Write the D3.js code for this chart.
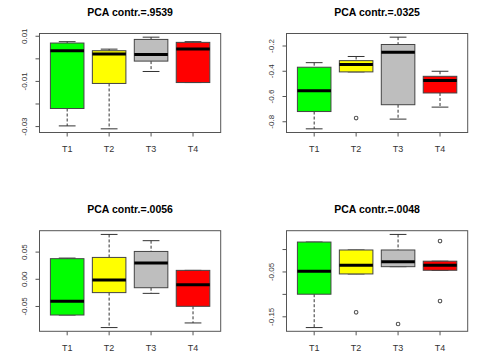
<!DOCTYPE html>
<html><head><meta charset="utf-8">
<script src="https://cdn.jsdelivr.net/npm/d3@7"></script>
<style>body{margin:0;background:#fff}svg{display:block}</style>
</head><body>
<script>
const categories = ["T1","T2","T3","T4"];
const boxColors = ["#00FF00","#FFFF00","#BEBEBE","#FF0000"];
const titles = ["PCA contr.=.9539","PCA contr.=.0325","PCA contr.=.0056","PCA contr.=.0048"];

// Panel 1
const p1Low  = [-0.0297, -0.0310, -0.0056, -0.0105];
const p1Q1   = [-0.0220, -0.0109, -0.0010, -0.0105];
const p1Med  = [ 0.0036,  0.0021,  0.0019,  0.0044];
const p1Q3   = [ 0.0070,  0.0036,  0.0086,  0.0073];
const p1High = [ 0.0076,  0.0043,  0.0096,  0.0076];
const p1Out  = [[], [], [], []];
const p1Ticks = [0.01, 0.00, -0.01, -0.02, -0.03];
const p1TickLabels = ["0.01", "", "-0.01", "", "-0.03"];

// Panel 2
const p2Low  = [-0.856, -0.405, -0.779, -0.684];
const p2Q1   = [-0.719, -0.405, -0.665, -0.572];
const p2Med  = [-0.554, -0.347, -0.250, -0.474];
const p2Q3   = [-0.368, -0.316, -0.188, -0.440];
const p2High = [-0.332, -0.283, -0.130, -0.400];
const p2Out  = [[], [-0.771], [], []];
const p2Ticks = [-0.2, -0.4, -0.6, -0.8];
const p2TickLabels = ["-0.2", "-0.4", "-0.6", "-0.8"];

// Panel 3
const p3Low  = [-0.0657, -0.0888, -0.0259, -0.0803];
const p3Q1   = [-0.0657, -0.0245, -0.0155, -0.0497];
const p3Med  = [-0.0405, -0.0012,  0.0298, -0.0099];
const p3Q3   = [ 0.0379,  0.0402,  0.0512,  0.0164];
const p3High = [ 0.0390,  0.0825,  0.0710,  0.0164];
const p3Out  = [[], [], [], []];
const p3Ticks = [0.05, 0.00, -0.05];
const p3TickLabels = ["0.05", "0.00", "-0.05"];

// Panel 4
const p4Low  = [-0.174, -0.0544, -0.0382, -0.0462];
const p4Q1   = [-0.0996, -0.0544, -0.0382, -0.0462];
const p4Med  = [-0.0484, -0.035, -0.027, -0.035];
const p4Q3   = [ 0.0167, -0.001, -0.001, -0.026];
const p4High = [ 0.0167, -0.001,  0.0337, -0.026];
const p4Out  = [[], [-0.140], [-0.166], [0.0189, -0.115]];
const p4Ticks = [0.00, -0.05, -0.10, -0.15];
const p4TickLabels = ["", "-0.05", "", "-0.15"];

const panels = [
  {low:p1Low,q1:p1Q1,med:p1Med,q3:p1Q3,high:p1High,out:p1Out,ticks:p1Ticks,labels:p1TickLabels},
  {low:p2Low,q1:p2Q1,med:p2Med,q3:p2Q3,high:p2High,out:p2Out,ticks:p2Ticks,labels:p2TickLabels},
  {low:p3Low,q1:p3Q1,med:p3Med,q3:p3Q3,high:p3High,out:p3Out,ticks:p3Ticks,labels:p3TickLabels},
  {low:p4Low,q1:p4Q1,med:p4Med,q3:p4Q3,high:p4High,out:p4Out,ticks:p4Ticks,labels:p4TickLabels}
];

const W = 495, H = 360;
const colLeft = [39.5, 286.5], colRight = [220.7, 467.7];
const rowTop = [33.5, 230.7], rowBottom = [132.5, 331.3];
const font = "'Liberation Sans', Arial, sans-serif";
const fg = "#333";

const svg = d3.select("body").append("svg").attr("width", W).attr("height", H);

panels.forEach((p, i) => {
  const c = i % 2, r = Math.floor(i / 2);
  const L = colLeft[c], R = colRight[c], T = rowTop[r], B = rowBottom[r];
  const g = svg.append("g");

  const xr = [0.5, categories.length + 0.5];
  const xpad = (xr[1] - xr[0]) * 0.04;
  const x = d3.scaleLinear().domain([xr[0] - xpad, xr[1] + xpad]).range([L, R]);

  const allVals = [].concat(p.low, p.high, ...p.out);
  const ymin = d3.min(allVals), ymax = d3.max(allVals);
  const ypad = (ymax - ymin) * 0.04;
  const y = d3.scaleLinear().domain([ymin - ypad, ymax + ypad]).range([B, T]);

  const bw = (x(1.4) - x(0.6));
  const sw = bw / 2;

  categories.forEach((cat, k) => {
    const cx = x(k + 1);
    g.append("line").attr("x1", cx).attr("x2", cx)
      .attr("y1", y(p.high[k])).attr("y2", y(p.q3[k]))
      .attr("stroke", fg).attr("stroke-width", 1).attr("stroke-dasharray", "3,2");
    g.append("line").attr("x1", cx).attr("x2", cx)
      .attr("y1", y(p.q1[k])).attr("y2", y(p.low[k]))
      .attr("stroke", fg).attr("stroke-width", 1).attr("stroke-dasharray", "3,2");
    [p.high[k], p.low[k]].forEach(v => {
      g.append("line").attr("x1", cx - sw / 2).attr("x2", cx + sw / 2)
        .attr("y1", y(v)).attr("y2", y(v))
        .attr("stroke", fg).attr("stroke-width", 1);
    });
    g.append("rect").attr("x", cx - bw / 2).attr("width", bw)
      .attr("y", y(p.q3[k])).attr("height", y(p.q1[k]) - y(p.q3[k]))
      .attr("fill", boxColors[k]).attr("stroke", "#444").attr("stroke-width", 1);
    g.append("line").attr("x1", cx - bw / 2).attr("x2", cx + bw / 2)
      .attr("y1", y(p.med[k])).attr("y2", y(p.med[k]))
      .attr("stroke", "#000").attr("stroke-width", 3);
    p.out[k].forEach(v => {
      g.append("circle").attr("cx", cx).attr("cy", y(v)).attr("r", 1.8)
        .attr("fill", "none").attr("stroke", "#555").attr("stroke-width", 1.1);
    });
  });

  g.append("rect").attr("x", L).attr("y", T).attr("width", R - L).attr("height", B - T)
    .attr("fill", "none").attr("stroke", "#555").attr("stroke-width", 1);

  categories.forEach((cat, k) => {
    const cx = x(k + 1);
    g.append("line").attr("x1", cx).attr("x2", cx).attr("y1", B).attr("y2", B + 4)
      .attr("stroke", "#555");
    g.append("text").attr("x", cx).attr("y", B + 19.5).attr("text-anchor", "middle")
      .attr("font-family", font).attr("font-size", 9).attr("fill", fg).text(cat);
  });

  p.ticks.forEach((t, j) => {
    g.append("line").attr("x1", L - 4).attr("x2", L).attr("y1", y(t)).attr("y2", y(t))
      .attr("stroke", "#555");
    if (p.labels[j]) {
      g.append("text").attr("transform", `translate(${L - 13},${y(t)}) rotate(-90)`)
        .attr("text-anchor", "middle").attr("font-family", font).attr("font-size", 8)
        .attr("fill", fg).text(p.labels[j]);
    }
  });

  g.append("text").attr("x", (L + R) / 2).attr("y", T - 17.5).attr("text-anchor", "middle")
    .attr("font-family", font).attr("font-weight", "bold").attr("font-size", 10.5)
    .attr("fill", "#000").text(titles[i]);
});
</script>
</body></html>
